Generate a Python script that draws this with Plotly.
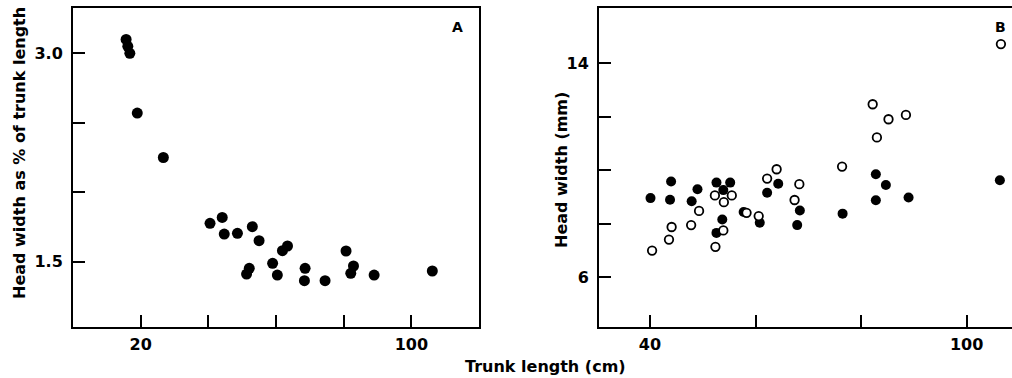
import plotly.graph_objects as go

# ---------------- Panel A data ----------------
a_trunk = [15.7, 16.2, 16.8, 19.0, 26.7, 40.5, 44.1, 44.7, 48.6, 53.0, 55.0,
           52.1, 51.3, 59.0, 60.4, 61.9, 63.4, 68.6, 68.4, 74.5, 80.7, 82.9,
           82.1, 89.0, 106.2]
a_pct = [3.10, 3.05, 3.00, 2.57, 2.25, 1.776, 1.819, 1.699, 1.704, 1.752, 1.651,
         1.452, 1.411, 1.488, 1.404, 1.579, 1.613, 1.452, 1.363, 1.363, 1.577, 1.469,
         1.416, 1.404, 1.433]

a_xticks = [20, 40, 60, 80, 100]
a_xtext = ["20", "", "", "", "100"]
a_yticks = [1.5, 2.0, 2.5, 3.0]
a_ytext = ["1.5", "", "", "3.0"]

# ---------------- Panel B data ----------------
b_filled_x = [40.1, 44.0, 43.8, 49.0, 47.9, 52.6, 55.2, 53.9, 53.7, 52.6, 57.75,
              60.8, 62.2, 64.3, 68.4, 67.9, 76.5, 82.8, 84.7, 82.8, 89.0, 106.3]
b_filled_y = [8.96, 9.58, 8.90, 9.29, 8.84, 9.54, 9.54, 9.26, 8.16, 7.66, 8.44,
              8.04, 9.16, 9.50, 8.50, 7.95, 8.38, 9.85, 9.45, 8.88, 8.98, 9.63]
b_open_x = [40.4, 43.6, 44.1, 47.8, 49.3, 52.3, 55.5, 54.0, 53.9, 52.4, 58.3,
            60.6, 62.2, 64.0, 68.3, 67.4, 76.4, 82.2, 85.2, 83.0, 88.5, 106.5]
b_open_y = [7.00, 7.41, 7.88, 7.95, 8.48, 9.06, 9.06, 8.81, 7.75, 7.14, 8.41,
            8.29, 9.69, 10.04, 9.48, 8.89, 10.14, 12.47, 11.91, 11.23, 12.07, 14.72]

b_xticks = [40, 60, 80, 100]
b_xtext = ["40", "", "", "100"]
b_yticks = [6, 8, 10, 12, 14]
b_ytext = ["6", "", "", "", "14"]

FONT = "DejaVu Sans"
W, H = 1012, 378
TOP, BOT = 8, 327

fig = go.Figure()

fig.add_trace(go.Scatter(x=a_trunk, y=a_pct, mode="markers", xaxis="x", yaxis="y",
                         marker=dict(size=11, color="black"), showlegend=False))
fig.add_trace(go.Scatter(x=b_filled_x, y=b_filled_y, mode="markers", xaxis="x2", yaxis="y2",
                         marker=dict(size=10, color="black"), showlegend=False))
fig.add_trace(go.Scatter(x=b_open_x, y=b_open_y, mode="markers", xaxis="x2", yaxis="y2",
                         marker=dict(size=8.5, color="white", line=dict(color="black", width=1.8)),
                         showlegend=False))

tick_font = dict(family=FONT, size=16, color="black", weight="bold")
axis_common = dict(showgrid=False, zeroline=False, showline=True, linecolor="black",
                   linewidth=2, ticks="inside", ticklen=12, tickwidth=2, tickcolor="black",
                   tickfont=tick_font)

fig.update_layout(
    width=W, height=H,
    margin=dict(l=0, r=0, t=TOP, b=H - BOT),
    paper_bgcolor="white", plot_bgcolor="white",
    xaxis=dict(domain=[73 / W, 479 / W], range=[0, 120], tickvals=a_xticks, ticktext=a_xtext,
               mirror=True, anchor="y", ticklabelstandoff=2, **axis_common),
    yaxis=dict(domain=[0, 1], range=[1.03, 3.326], tickvals=a_yticks, ticktext=a_ytext,
               mirror=True, anchor="x", ticklabelstandoff=5, **axis_common),
    xaxis2=dict(domain=[599 / W, 1.0], range=[30.34, 108.6], tickvals=b_xticks, ticktext=b_xtext,
                mirror=True, anchor="y2", ticklabelstandoff=2, **axis_common),
    yaxis2=dict(domain=[0, 1], range=[4.14, 16.07], tickvals=b_yticks, ticktext=b_ytext,
                mirror=False, anchor="x2", ticklabelstandoff=5, **axis_common),
)

def px_x(p):
    return p / W

def px_y(p):
    return (BOT - p) / (BOT - TOP)

ann_font = dict(family=FONT, size=16, color="black", weight="bold")
fig.add_annotation(text="Trunk length (cm)", x=px_x(545), y=px_y(366), xref="paper", yref="paper",
                   showarrow=False, font=ann_font, xanchor="center", yanchor="middle")
fig.add_annotation(text="Head width as % of trunk length", x=px_x(19), y=px_y(153),
                   xref="paper", yref="paper", showarrow=False, font=ann_font, textangle=-90,
                   xanchor="center", yanchor="middle")
fig.add_annotation(text="Head width (mm)", x=px_x(561), y=px_y(170), xref="paper", yref="paper",
                   showarrow=False, font=ann_font, textangle=-90, xanchor="center", yanchor="middle")
fig.add_annotation(text="A", x=px_x(457), y=px_y(27), xref="paper", yref="paper",
                   showarrow=False, font=dict(family=FONT, size=14, color="black", weight="bold"),
                   xanchor="center", yanchor="middle")
fig.add_annotation(text="B", x=px_x(1000), y=px_y(26.5), xref="paper", yref="paper",
                   showarrow=False, font=dict(family=FONT, size=14, color="black", weight="bold"),
                   xanchor="center", yanchor="middle")

fig.write_html("out.html", config={"displayModeBar": False},
               post_script="document.body.style.margin='0px';document.body.style.padding='0px';")
